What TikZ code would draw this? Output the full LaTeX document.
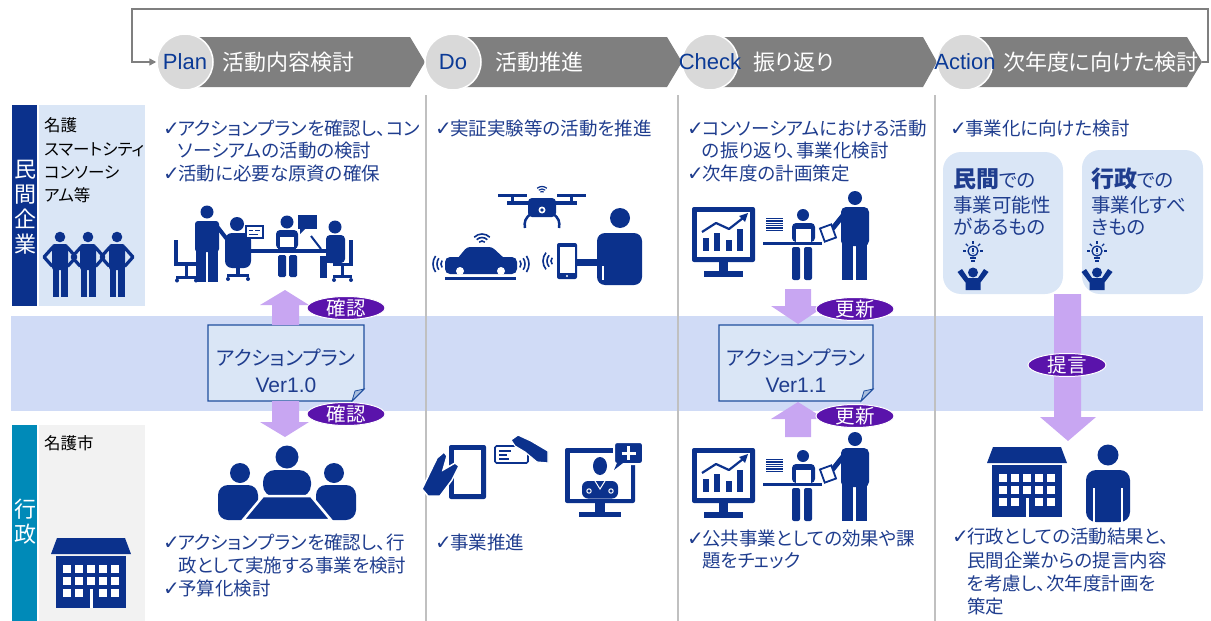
\documentclass[tikz,border=0pt]{standalone}
\usepackage{fontspec}
\setmainfont{Noto Sans CJK JP}[RawFeature=+palt]
\newfontfamily\latinfont{Liberation Sans}
\newfontfamily\symfont{DejaVu Sans}
\usetikzlibrary{shapes.geometric,arrows.meta}

\definecolor{navy}{HTML}{0B318C}
\definecolor{txtblue}{HTML}{1F3D8E}
\definecolor{stageblue}{HTML}{0B3A96}
\definecolor{chevgray}{HTML}{7F7F7F}
\definecolor{circgray}{HTML}{D9D9D9}
\definecolor{sepgray}{HTML}{C0C0C0}
\definecolor{paleblue}{HTML}{DAE6F6}
\definecolor{bandblue}{HTML}{D0DBF6}
\definecolor{lavender}{HTML}{C8A6F2}
\definecolor{tagpurple}{HTML}{5A13AB}
\definecolor{tealbar}{HTML}{008AB8}
\definecolor{panelgray}{HTML}{F2F2F2}
\definecolor{docedge}{HTML}{1F4E9E}
\definecolor{docfold}{HTML}{A9BEDD}

\newcommand\fs[2]{\fontsize{#1}{#2}\selectfont}
\newcommand\ck{\makebox[15pt][l]{\symfont\fs{20}{20}✓}}

% monitor with chart, desk worker and colleague handing over a sheet
\newcommand\reviewicon{%
  \fill[navy, rounded corners=2] (692,207) rectangle (755,262);
  \fill[white] (697,212) rectangle (750,257);
  \fill[navy] (719,262) rectangle (728,271);
  \fill[navy] (704,271) rectangle (743,277);
  \fill[navy] (703,238) rectangle (709,251);
  \fill[navy] (714,233) rectangle (720,251);
  \fill[navy] (726,240) rectangle (732,251);
  \fill[navy] (737,229) rectangle (743,251);
  \draw[navy, line width=2.2, line join=round] (702,232) -- (716,223) -- (729,229) -- (743,218);
  \fill[navy] (748,213) -- (739,216) -- (745,222) -- cycle;
  \foreach \i in {0,...,5}{\fill[navy] (766,{218+2.3*\i}) rectangle (783,{219.4+2.3*\i});}
  \fill[navy] (763,242) rectangle (822,245);
  \fill[navy] (803,215) circle (6);
  \fill[navy, rounded corners=4] (792,223) rectangle (815,242);
  \fill[white] (796,229) rectangle (811,242);
  \fill[navy, rounded corners=2] (792,247) rectangle (800,280);
  \fill[navy, rounded corners=2] (804,247) rectangle (812,280);
  \fill[navy] (855,198) circle (7);
  \fill[navy, rounded corners=5] (841,207) rectangle (869,246);
  \fill[navy] (842,243) rectangle (853,280);
  \fill[navy] (856,243) rectangle (867,280);
  \draw[navy, line width=5, line cap=round] (845,213) -- (833,228);
  \filldraw[fill=white, draw=navy, line width=1.8, rotate around={20:(828,233)}] (822,226) rectangle (834,240);
}

% office building, top-left corner at the origin
\newcommand\buildingicon{%
  \fill[navy] (0,16) -- (6,0) -- (74,0) -- (80,16) -- cycle;
  \fill[navy] (5,18) rectangle (75,70);
  \foreach \cx in {12,24,36,48,60}{\foreach \cy in {27,39}{\fill[white] (\cx,\cy) rectangle (\cx+8,\cy+8);}}
  \foreach \cx in {12,24,48,60}{\fill[white] (\cx,51) rectangle (\cx+8,59);}
  \fill[white] (38.5,51) rectangle (41.5,70);
}

% light bulb above a cheering person, centred on x = 0
\newcommand\ideaicon{%
  \draw[navy, line width=1.3] (0,251) circle (5);
  \fill[navy] (-2.6,256.8) rectangle (2.6,259.4);
  \fill[navy] (-1.6,260.4) rectangle (1.6,262);
  \draw[navy, line width=1.1] (0,248) -- (0,252);
  \fill[navy] (0,253.6) circle (0.65);
  \foreach \a in {180,225,270,315,0}{\draw[navy, line width=1.1] (0,251) ++(\a:7.2) -- ++(\a:3);}
  \fill[navy] (0,272.5) circle (5);
  \fill[navy] (-15.5,272) -- (-11,269) -- (-5,278) -- (5,278) -- (11,269) -- (15.5,272) -- (7.5,282.5) -- (7.5,290) -- (-7.5,290) -- (-7.5,282.5) -- cycle;
}

\begin{document}
\begin{tikzpicture}[x=1pt, y=-1pt,
  txt/.style={anchor=base west, inner sep=0pt, text=txtblue, font=\fs{18.5}{23}},
  boxtxt/.style={anchor=base west, inner sep=0pt, text=txtblue, font=\fs{19.5}{24}},
  lbl/.style={anchor=base west, inner sep=0pt, text=black, font=\fs{16.5}{23}},
  title/.style={anchor=base west, inner sep=0pt, text=white, font=\fs{22}{24}},
  stagecirc/.style={circle, fill=circgray, draw=white, line width=1.5pt, minimum size=56pt, inner sep=0pt},
  stagetxt/.style={inner sep=0pt, text=stageblue, font=\latinfont\fs{22}{24}},
  chevron/.style={fill=chevgray},
  vlabel/.style={inner sep=0pt, text=white, align=center, font=\fs{22}{25}},
  doctext/.style={inner sep=0pt, text=txtblue, font=\fs{20}{24}},
  docver/.style={inner sep=0pt, text=txtblue, font=\latinfont\fs{21}{24}},
  tag/.style={ellipse, fill=tagpurple, draw=white, line width=1pt, minimum width=78pt, minimum height=23pt,
    inner sep=0pt, text=white, font=\fs{19.5}{20}, text height=14.8pt, text depth=0pt},
  blockarrow/.style={fill=lavender},
  loopline/.style={draw=chevgray, line width=1.5pt, -{Triangle[length=7pt,width=7pt]}},
  separator/.style={draw=sepgray, line width=1.5pt},
  ic/.style={fill=navy}]

\useasboundingbox (0,0) rectangle (1211,621);

% ---------- PDCA banner
\fill[chevron] (185,37) -- (410,37) -- (425,62) -- (410,87) -- (185,87) -- cycle;
\fill[chevron] (453,37) -- (667,37) -- (682,62) -- (667,87) -- (453,87) -- cycle;
\fill[chevron] (710,37) -- (923,37) -- (937,62) -- (923,87) -- (710,87) -- cycle;
\fill[chevron] (965,37) -- (1187,37) -- (1202,62) -- (1187,87) -- (965,87) -- cycle;
\coordinate (looptip) at (1202,62);

\node[stagecirc] (plan) at (185,62) {};
\node[stagecirc] (do) at (453,62) {};
\node[stagecirc] (check) at (710,62) {};
\node[stagecirc] (action) at (965,62) {};
\node[stagetxt] (plantxt) at (plan) {Plan};
\node[stagetxt] (dotxt) at (do) {Do};
\node[stagetxt] (checktxt) at (check) {Check};
\node[stagetxt] (actiontxt) at (action) {Action};

\node[title] (plantitle) at (222,70) {活動内容検討};
\node[title] (dotitle) at (495,70) {活動推進};
\node[title] (checktitle) at (753,70) {振り返り};
\node[title] (actiontitle) at (1003,70) {次年度に向けた検討};

\coordinate (loopa) at (1208,62);
\coordinate (loopb) at (1208,9);
\coordinate (loopc) at (132,9);
\coordinate (loopd) at (132,62);
\draw[loopline] (looptip) -- (loopa) -- (loopb) -- (loopc) -- (loopd) -- (plan.west);

% ---------- action plan band and column separators
\fill[bandblue] (11,316) rectangle (1203,411);
\draw[separator] (426,95) -- (426,621);
\draw[separator] (678,95) -- (678,621);
\draw[separator] (935,95) -- (935,621);

% ---------- row headers
\fill[navy] (12,105) rectangle (37,306);
\fill[paleblue] (39,105) rectangle (145,306);
\fill[tealbar] (12,425) rectangle (37,621);
\fill[panelgray] (39,425) rectangle (145,621);
\node[vlabel] (minkan) at (25,207) {民\\間\\企\\業};
\node[vlabel] (gyosei) at (25,522) {行\\政};
\node[lbl] (nago1) at (44,131.5) {名護};
\node[lbl] (nago2) at (44,155) {スマートシティ};
\node[lbl] (nago3) at (44,178) {コンソーシ};
\node[lbl] (nago4) at (44,201.5) {アム等};
\node[lbl] (nagocity) at (44,449.5) {名護市};

% three people arm in arm
\foreach \cx in {60,88,117}{
  \draw[navy, line width=3.2, line join=round, line cap=round] (\cx-7,247) -- (\cx-16,257) -- (\cx-8,266);
  \draw[navy, line width=3.2, line join=round, line cap=round] (\cx+7,247) -- (\cx+16,257) -- (\cx+8,266);
  \fill[ic] (\cx,237) circle (5.3);
  \fill[ic, rounded corners=2.5] (\cx-8,244) rectangle (\cx+8,270);
  \fill[ic] (\cx-7.5,265) rectangle (\cx-1,297);
  \fill[ic] (\cx+1,265) rectangle (\cx+7.5,297);
}
% city building
\begin{scope}[shift={(51,538)}]
  \buildingicon
\end{scope}

% ---------- Plan column
\node[txt] (pt1) at (163,135) {\ck アクションプランを確認し、コン};
\node[txt] (pt2) at (178,157.5) {ソーシアムの活動の検討};
\node[txt] (pt3) at (163,180.5) {\ck 活動に必要な原資の確保};

% meeting at the office
\fill[ic] (174,240) rectangle (178,266);
\fill[ic] (174,262) rectangle (197,266);
\fill[ic] (185,266) rectangle (188,276);
\fill[ic] (176,276) rectangle (197,278.5);
\fill[ic] (177,280.5) circle (2);
\fill[ic] (196,280.5) circle (2);
\fill[ic] (207,212) circle (6.5);
\fill[ic, rounded corners=3] (195,221) rectangle (219,252);
\fill[ic] (196,248) rectangle (206,282);
\fill[ic] (208,248) rectangle (218,282);
\draw[navy, line width=4, line cap=round] (216,225) -- (226,238);
\fill[ic] (237,224) circle (7);
\fill[ic, rounded corners=7] (225,233) rectangle (251,268);
\fill[ic] (236,268) rectangle (240,274);
\fill[ic] (227,274) rectangle (249,276.5);
\fill[ic] (228,279) circle (2);
\fill[ic] (248,279) circle (2);
\filldraw[fill=white, draw=navy, line width=1.3] (246,226) rectangle (263,238);
\draw[navy, line width=1] (249,230) -- (253,230) (255,230) -- (260,230) (249,234) -- (258,234);
\fill[ic] (247,249) rectangle (333,253);
\fill[ic] (287,222) circle (6.5);
\fill[ic, rounded corners=4] (276,230) rectangle (298,249);
\filldraw[fill=white, draw=navy, line width=1.5] (279,236) rectangle (295,248);
\fill[ic, rounded corners=1.5] (278,255) rectangle (286,277);
\fill[ic, rounded corners=1.5] (289,255) rectangle (297,277);
\fill[ic] (298,215) rectangle (317,229);
\fill[ic] (300,228) -- (306,228) -- (300,234) -- cycle;
\draw[navy, line width=2] (311,236) -- (321,249);
\fill[ic] (335,227) circle (6.5);
\fill[ic, rounded corners=4] (326,235) rectangle (345,263);
\fill[ic] (320,256) rectangle (340,263);
\fill[ic] (320,256) rectangle (327,278);
\fill[ic] (349,240) rectangle (353,266);
\fill[ic] (333,263) rectangle (353,266);
\fill[ic] (341,266) rectangle (344,275);
\fill[ic] (333,275) rectangle (352,277.5);
\fill[ic] (334,280) circle (2);
\fill[ic] (351,280) circle (2);

% action plan 1.0
\filldraw[fill=paleblue, draw=docedge, line width=1.3] (208,325) -- (364,325) -- (364,389) -- (352,401) -- (208,401) -- cycle;
\filldraw[fill=docfold, draw=docedge, line width=0.8] (352,401) -- (355,391) -- (364,389) -- cycle;
\node[doctext] (plan10a) at (286,358) {アクションプラン};
\node[docver] (plan10b) at (286,385) {Ver1.0};

\fill[blockarrow] (272,325) -- (272,305) -- (260,305) -- (285,290) -- (309,305) -- (299,305) -- (299,325) -- cycle;
\fill[blockarrow] (272,401) -- (272,422) -- (260,422) -- (285,437) -- (309,422) -- (299,422) -- (299,401) -- cycle;
\node[tag] (confirm1) at (346,308) {確認};
\node[tag] (confirm2) at (346,414) {確認};

% council meeting
\fill[ic] (287,457) circle (11.5);
\fill[ic, rounded corners=12] (263,497) rectangle (311,470);
\fill[ic] (240,473) circle (10);
\fill[ic, rounded corners=10] (218,485) rectangle (258,520);
\fill[ic] (334,473) circle (10);
\fill[ic, rounded corners=10] (316,485) rectangle (356,520);
\filldraw[fill=navy, draw=white, line width=2.5] (263,496) -- (311,496) -- (331,520) -- (243,520) -- cycle;

\node[txt] (pb1) at (163,549.5) {\ck アクションプランを確認し、行};
\node[txt] (pb2) at (178,572) {政として実施する事業を検討};
\node[txt] (pb3) at (163,595) {\ck 予算化検討};

% ---------- Do column
\node[txt] (dt1) at (435,135) {\ck 実証実験等の活動を推進};

% drone
\fill[ic] (498,193.5) rectangle (527,196.5);
\fill[ic] (557,193.5) rectangle (586,196.5);
\fill[ic] (511,195) rectangle (514,203);
\fill[ic] (570,195) rectangle (573,203);
\fill[ic] (507,201) rectangle (577,205);
\fill[ic, rounded corners=4] (528,198) rectangle (556,217);
\fill[white] (542,210) circle (3.5);
\fill[ic] (542,210) circle (1.8);
\draw[navy, line width=2.5] (531,214) .. controls (525,218) and (524,222) .. (525,228);
\draw[navy, line width=2.5] (553,214) .. controls (559,218) and (560,222) .. (559,228);
\foreach \r in {2.5,5,7.5}{\draw[navy, line width=1.2] (542,194) ++(230:\r) arc[start angle=230, end angle=310, radius=\r];}
% connected car
\fill[ic, rounded corners=5] (445,257) rectangle (517,274);
\fill[ic, rounded corners=3] (457,259) -- (467,247) -- (492,247) -- (505,259) -- cycle;
\fill[white] (460,271) circle (4);
\fill[white] (501,271) circle (4);
\fill[ic] (445,277) rectangle (516,279.5);
\foreach \r in {4,7.5,11}{\draw[navy, line width=1.6] (482,245) ++(225:\r) arc[start angle=225, end angle=315, radius=\r];}
\foreach \r in {6,10,14}{
  \draw[navy, line width=1.6] (447,264) ++(145:\r) arc[start angle=145, end angle=215, radius=\r];
  \draw[navy, line width=1.6] (515,264) ++(-35:\r) arc[start angle=-35, end angle=35, radius=\r];
}
% smartphone and user
\fill[ic, rounded corners=2] (557,243) rectangle (577,279);
\fill[white] (559.5,246.5) rectangle (574.5,273);
\fill[white] (567,276) circle (1.2);
\foreach \r in {5,9,13}{\draw[navy, line width=1.6] (556,261) ++(140:\r) arc[start angle=140, end angle=220, radius=\r];}
\fill[ic] (620,218) circle (10);
\fill[ic, rounded corners=8] (597,285) -- (597,233) -- (642,233) -- (642,285) -- cycle;
\fill[ic] (577,259) rectangle (600,266);
\draw[white, line width=1.2] (603,266) -- (603,280);

% tablet, card and telemedicine
\fill[ic, rounded corners=2] (449,445) rectangle (486,499);
\fill[white] (454,450) rectangle (481,494);
\filldraw[fill=navy, draw=white, line width=1.5] (422,489) -- (437,458) -- (444,452) -- (447,456) -- (443,470) -- (455,463) -- (459,466) -- (452,480) -- (440,496) -- (428,496) -- cycle;
\filldraw[fill=white, draw=navy, line width=1.6, rounded corners=1.5] (495,446) rectangle (528,463);
\draw[navy, line width=1.2] (499,451) -- (511,451) (499,455) -- (507,455) (499,459) -- (509,459);
\filldraw[fill=navy, draw=white, line width=1.2] (511,440) -- (518,435) -- (531,441) -- (548,451) -- (548,463) -- (537,462) -- (525,452) -- (515,446) -- cycle;
\fill[ic, rounded corners=2] (565,448) rectangle (635,503);
\fill[white] (569.5,452.5) rectangle (630.5,498.5);
\fill[ic] (595,503) rectangle (605,512);
\fill[ic] (579,512) rectangle (621,517);
\fill[ic] (600,466) ellipse [x radius=7, y radius=9];
\fill[ic, rounded corners=6] (582,498.5) rectangle (618,481);
\draw[white, line width=1] (595,481) -- (600,489) -- (605,481);
\draw[white, line width=1] (589,491) circle (2.2) (611,491) circle (2.2);
\filldraw[fill=navy, draw=white, line width=2, rounded corners=3] (614,442) rectangle (643,464);
\fill[ic] (617,463) -- (623,463) -- (614,470) -- cycle;
\draw[white, line width=3] (628.5,446) -- (628.5,460) (621.5,453) -- (635.5,453);

\node[txt] (db1) at (435,549.5) {\ck 事業推進};

% ---------- Check column
\node[txt] (ct1) at (687,135) {\ck コンソーシアムにおける活動};
\node[txt] (ct2) at (702,157.5) {の振り返り、事業化検討};
\node[txt] (ct3) at (687,180.5) {\ck 次年度の計画策定};
\reviewicon
\begin{scope}[shift={(0,241)}]
  \reviewicon
\end{scope}

\filldraw[fill=paleblue, draw=docedge, line width=1.3] (719,325) -- (873,325) -- (873,389) -- (861,401) -- (719,401) -- cycle;
\filldraw[fill=docfold, draw=docedge, line width=0.8] (861,401) -- (864,391) -- (873,389) -- cycle;
\node[doctext] (plan11a) at (796,358) {アクションプラン};
\node[docver] (plan11b) at (796,385) {Ver1.1};

\fill[blockarrow] (785,289) -- (785,306) -- (771,306) -- (798,324) -- (825,306) -- (811,306) -- (811,289) -- cycle;
\fill[blockarrow] (785,437) -- (785,419) -- (771,419) -- (798,402) -- (825,419) -- (811,419) -- (811,437) -- cycle;
\node[tag] (update1) at (855,309) {更新};
\node[tag] (update2) at (855,416) {更新};

\node[txt] (cb1) at (687,545.5) {\ck 公共事業としての効果や課};
\node[txt] (cb2) at (702,567) {題をチェック};

% ---------- Action column
\node[txt] (at1) at (950,135) {\ck 事業化に向けた検討};
\fill[paleblue, rounded corners=18] (943,152) rectangle (1063,294);
\fill[paleblue, rounded corners=18] (1082,150) rectangle (1203,294);
\node[boxtxt] (privA) at (953,187) {{\bfseries\fs{23}{24}民間}での};
\node[boxtxt] (privB) at (953,212) {事業可能性};
\node[boxtxt] (privC) at (953,234.5) {があるもの};
\node[boxtxt] (pubA) at (1091,187) {{\bfseries\fs{23}{24}行政}での};
\node[boxtxt] (pubB) at (1091,212) {事業化すべ};
\node[boxtxt] (pubC) at (1091,234.5) {きもの};
\begin{scope}[shift={(973,0)}]
  \ideaicon
\end{scope}
\begin{scope}[shift={(1097,0)}]
  \ideaicon
\end{scope}

\fill[blockarrow] (1054,294) -- (1054,417) -- (1040,417) -- (1068,441) -- (1096,417) -- (1081,417) -- (1081,294) -- cycle;
\node[tag] (propose) at (1067,365) {提言};

\begin{scope}[shift={(987,447)}]
  \buildingicon
\end{scope}
\fill[ic] (1108,455) circle (10.5);
\fill[ic, rounded corners=10] (1086,470) rectangle (1130,522);
\draw[white, line width=1.5] (1094,488) -- (1094,522) (1122,488) -- (1122,522);

\node[txt] (ab1) at (952,543) {\ck 行政としての活動結果と、};
\node[txt] (ab2) at (967,567) {民間企業からの提言内容};
\node[txt] (ab3) at (967,590) {を考慮し、次年度計画を};
\node[txt] (ab4) at (967,613) {策定};

\end{tikzpicture}
\end{document}
